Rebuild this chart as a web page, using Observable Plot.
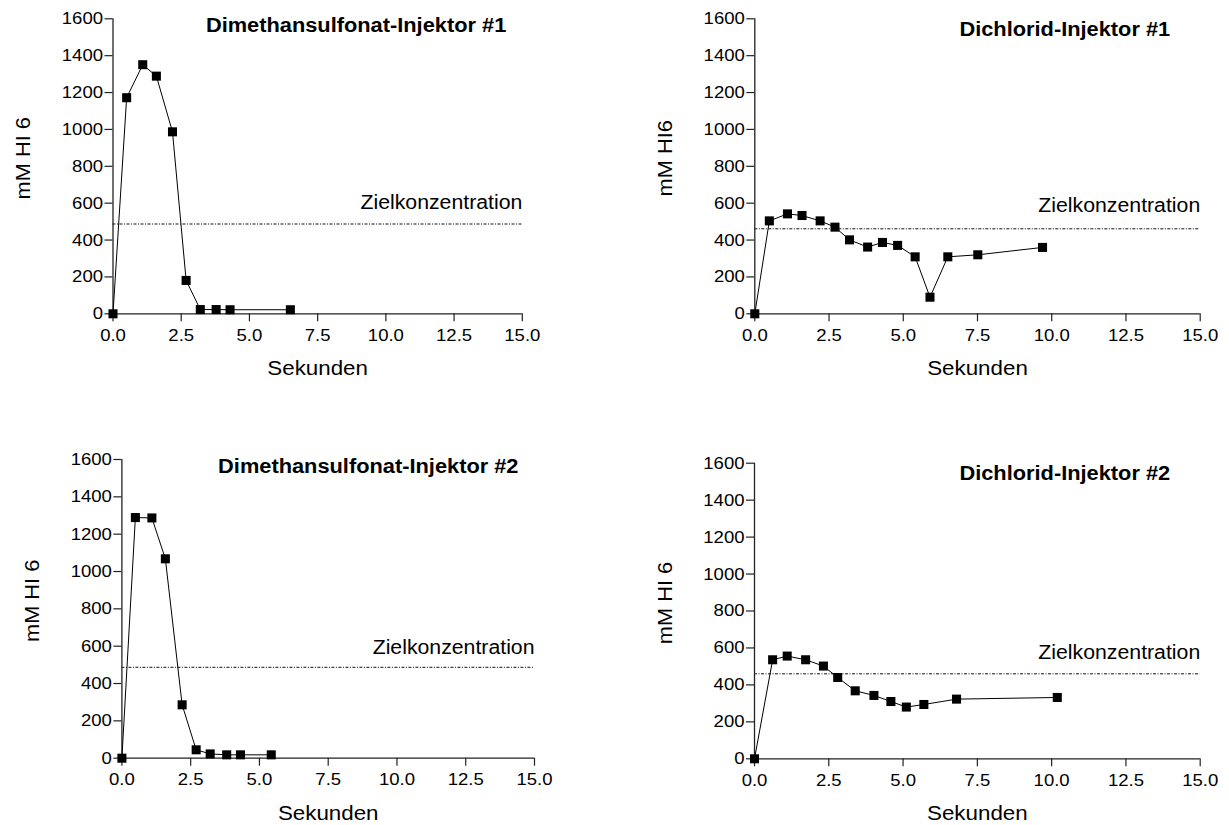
<!DOCTYPE html>
<html><head><meta charset="utf-8">
<script src="https://cdn.jsdelivr.net/npm/d3@7"></script>
<script src="https://cdn.jsdelivr.net/npm/@observablehq/plot@0.6"></script>
<style>
body{margin:0;background:#fff}
#wrap{position:relative;width:1229px;height:825px;overflow:hidden;background:#fff}
#wrap svg{position:absolute}
</style></head><body><div id="wrap"></div>
<script>
// ---- data ----
const titles = ["Dimethansulfonat-Injektor #1", "Dichlorid-Injektor #1", "Dimethansulfonat-Injektor #2", "Dichlorid-Injektor #2"];
const yLabels = ["mM HI 6", "mM HI6", "mM HI 6", "mM HI 6"];
const xLabel = "Sekunden";
const targetLabel = "Zielkonzentration";
const targets = [487, 461, 487, 460];
const xTicks = [0, 2.5, 5, 7.5, 10, 12.5, 15];
const yTicks = [0, 200, 400, 600, 800, 1000, 1200, 1400, 1600];

const dms1Sec  = [0, 0.50, 1.09, 1.59, 2.18, 2.68, 3.20, 3.78, 4.29, 6.50];
const dms1Conc = [0, 1172, 1351, 1289, 987, 181, 23, 23, 22, 22];

const dic1Sec  = [0, 0.49, 1.10, 1.59, 2.20, 2.70, 3.19, 3.80, 4.30, 4.81, 5.40, 5.90, 6.50, 7.51, 9.69];
const dic1Conc = [0, 504, 542, 533, 504, 470, 401, 362, 387, 371, 309, 90, 309, 320, 360];

const dms2Sec  = [0, 0.49, 1.09, 1.58, 2.19, 2.70, 3.21, 3.81, 4.31, 5.43];
const dms2Conc = [0, 1289, 1287, 1068, 286, 45, 23, 18, 18, 18];

const dic2Sec  = [0, 0.61, 1.10, 1.72, 2.32, 2.80, 3.39, 4.02, 4.59, 5.11, 5.70, 6.80, 10.19];
const dic2Conc = [0, 536, 556, 536, 502, 440, 368, 343, 310, 280, 294, 323, 332];

const seriesSec  = [dms1Sec, dic1Sec, dms2Sec, dic2Sec];
const seriesConc = [dms1Conc, dic1Conc, dms2Conc, dic2Conc];

// ---- layout (positions / styles) ----
const layout = [
  {left: 0,   top: 0,   w: 600, h: 410, ml: 112.5, mr: 78.2, mt: 18.3, mb: 96.7, tdx: -16, tdy: 7,  zdy: -21},
  {left: 600, top: 0,   w: 629, h: 410, ml: 154.3, mr: 29.3, mt: 18.3, mb: 96.7, tdx: -30, tdy: 10.5, zdy: -23},
  {left: 0,   top: 430, w: 600, h: 395, ml: 121.4, mr: 66,   mt: 29,   mb: 67.3, tdx: -16, tdy: 7,  zdy: -20},
  {left: 600, top: 430, w: 629, h: 395, ml: 154,   mr: 29.3, mt: 32.7, mb: 66.7, tdx: -30, tdy: 10.5, zdy: -21.5}
];
const FONT = "'Liberation Sans', Arial, Helvetica, sans-serif";
const AX = "#222";
const STRETCH = 1.09;

const wrap = document.getElementById("wrap");

layout.forEach((L, i) => {
  const data = seriesSec[i].map((s, j) => ({s, c: seriesConc[i][j]}));
  const svg = Plot.plot({
    width: L.w, height: L.h,
    marginLeft: L.ml, marginRight: L.mr, marginTop: L.mt, marginBottom: L.mb,
    x: {domain: [0, 15]},
    y: {domain: [0, 1600]},
    style: {fontFamily: FONT, color: "#000", background: "transparent", overflow: "visible"},
    marks: [
      Plot.ruleY([targets[i]], {x1: 0, x2: 15, stroke: "#111", strokeWidth: 1, strokeDasharray: "3,1.5,1,1.5"}),
      Plot.axisX({ticks: xTicks, tickFormat: d3.format(".1f"), tickSize: 8, tickPadding: 7, fontSize: 17, label: null, stroke: AX, strokeWidth: 1.2}),
      Plot.axisY({ticks: yTicks, tickFormat: d3.format("d"), tickSize: 8, tickPadding: 2, fontSize: 17, label: null, stroke: AX, strokeWidth: 1.2}),
      Plot.ruleX([0], {y1: 0, y2: 1600, stroke: AX, strokeWidth: 1.3}),
      Plot.ruleY([0], {x1: 0, x2: 15, stroke: AX, strokeWidth: 1.3}),
      Plot.line(data, {x: "s", y: "c", stroke: "#000", strokeWidth: 1}),
      Plot.dot(data, {x: "s", y: "c", symbol: "square", r: 5.1, fill: "#000", stroke: "none"}),
      Plot.text([titles[i]], {frameAnchor: "top-right", dx: L.tdx, dy: L.tdy, fontWeight: "bold", fontSize: 20, textAnchor: "end", lineAnchor: "middle", fill: "#000"}),
      Plot.text([targetLabel], {x: () => 15, y: () => targets[i], dy: L.zdy, textAnchor: "end", lineAnchor: "middle", fontSize: 19.5, fill: "#000"}),
      Plot.text([xLabel], {frameAnchor: "bottom", dy: 55, fontSize: 20.5, textAnchor: "middle", lineAnchor: "middle", fill: "#000"}),
      Plot.text([yLabels[i]], {frameAnchor: "left", dx: -89, dy: -8, rotate: -90, fontSize: 20, textAnchor: "middle", lineAnchor: "middle", fill: "#000"})
    ]
  });
  svg.style.left = L.left + "px";
  svg.style.top = L.top + "px";
  wrap.appendChild(svg);
  svg.querySelectorAll("text").forEach(t => {
    const len = t.getComputedTextLength();
    if (len > 0) {
      t.setAttribute("textLength", (len * STRETCH).toFixed(2));
      t.setAttribute("lengthAdjust", "spacingAndGlyphs");
    }
  });
});
</script></body></html>
